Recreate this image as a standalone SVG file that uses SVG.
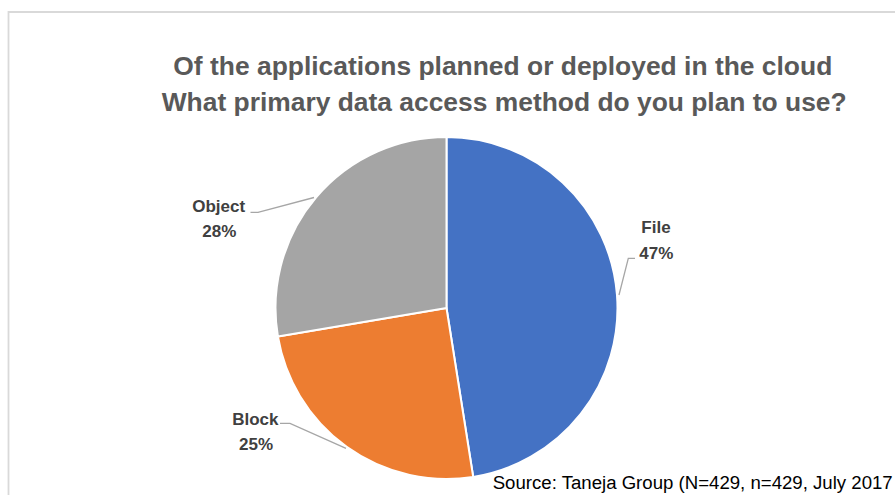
<svg xmlns="http://www.w3.org/2000/svg" width="895" height="495" viewBox="0 0 895 495">
  <style>
    .title { font-family: "Liberation Sans", Arial, sans-serif; font-weight: bold; font-size: 25px; fill: #595959; }
    .lbl { font-family: "Liberation Sans", Arial, sans-serif; font-weight: bold; font-size: 17px; fill: #404040; text-anchor: middle; }
    .src { font-family: "Liberation Sans", Arial, sans-serif; font-size: 18px; fill: #000000; }
    .slice { stroke: #ffffff; stroke-width: 2; stroke-linejoin: round; }
    .leader { fill: none; stroke: #a6a6a6; stroke-width: 1.3; }
  </style>
  <rect x="0" y="0" width="895" height="495" fill="#ffffff"/>
  <path d="M8.5,495 V12 H895" fill="none" stroke="#d9d9d9" stroke-width="1.8"/>

  <g id="title">
    <text class="title" x="173.3" y="75" textLength="659" lengthAdjust="spacingAndGlyphs">Of the applications planned or deployed in the cloud</text>
    <text class="title" x="161.7" y="110.7" textLength="685" lengthAdjust="spacingAndGlyphs">What primary data access method do you plan to use?</text>
  </g>

  <g id="pie">
    <g id="slice-file">
      <path class="slice" fill="#4472c4" d="M446.5,308 L446.5,137 A171,171 0 0 1 473.2,476.9 Z"/>
    </g>
    <g id="slice-block">
      <path class="slice" fill="#ed7d31" d="M446.5,308 L473.2,476.9 A171,171 0 0 1 277.9,336.5 Z"/>
    </g>
    <g id="slice-object">
      <path class="slice" fill="#a5a5a5" d="M446.5,308 L277.9,336.5 A171,171 0 0 1 446.5,137 Z"/>
    </g>
  </g>

  <g id="connectors">
    <polyline class="leader" points="250.5,212.3 258,212.3 314,197.5"/>
    <polyline class="leader" points="635,258.3 628.3,258.3 619,295"/>
    <polyline class="leader" points="280,423.3 290,423.3 346,448.3"/>
  </g>

  <g id="label-object">
    <text class="lbl" x="218.7" y="211.7">Object</text>
    <text class="lbl" x="219.3" y="236.7">28%</text>
  </g>
  <g id="label-file">
    <text class="lbl" x="656" y="233.3">File</text>
    <text class="lbl" x="656.3" y="259">47%</text>
  </g>
  <g id="label-block">
    <text class="lbl" x="255.3" y="425">Block</text>
    <text class="lbl" x="256" y="450">25%</text>
  </g>

  <g id="source">
    <text class="src" x="492.7" y="488.5" textLength="400" lengthAdjust="spacingAndGlyphs">Source: Taneja Group (N=429, n=429, July 2017</text>
  </g>
</svg>
